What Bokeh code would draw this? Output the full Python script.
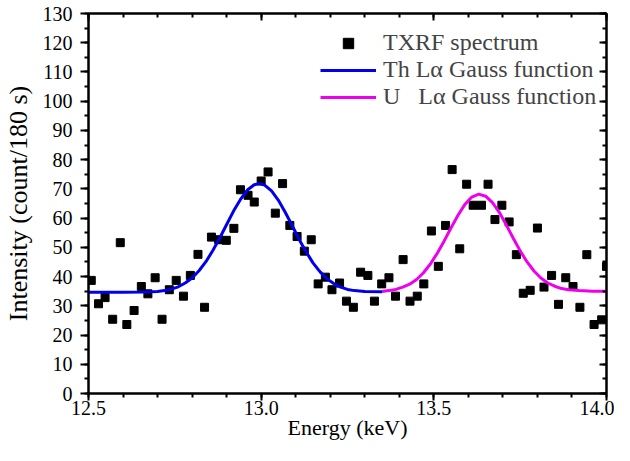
from bokeh.plotting import figure
from bokeh.models import (Range1d, LinearAxis, SingleIntervalTicker, Legend, LegendItem,
                          ColumnDataSource)
from bokeh.embed import file_html
from bokeh.resources import INLINE

# ---- data ----
energy_keV = [12.508, 12.529, 12.548, 12.570, 12.592, 12.611, 12.632, 12.653, 12.672, 12.693,
              12.713, 12.734, 12.754, 12.775, 12.795, 12.817, 12.836, 12.856, 12.877, 12.899,
              12.921, 12.940, 12.962, 12.980, 13.000, 13.020, 13.041, 13.062, 13.083, 13.104,
              13.125, 13.145, 13.165, 13.186, 13.205, 13.227, 13.247, 13.267, 13.288, 13.309,
              13.328, 13.349, 13.370, 13.389, 13.411, 13.431, 13.452, 13.471, 13.493, 13.513,
              13.534, 13.553, 13.575, 13.595, 13.614, 13.638, 13.657, 13.677, 13.697, 13.718,
              13.739, 13.759, 13.779, 13.800, 13.819, 13.841, 13.861, 13.882, 13.903, 13.923,
              13.943, 13.964, 13.986, 14.000]
intensity = [38.7, 30.7, 32.8, 25.4, 51.6, 23.6, 28.4, 36.6, 34.1, 39.6,
             25.4, 35.5, 38.7, 33.3, 40.4, 47.6, 29.5, 53.5, 52.6, 52.4,
             56.5, 69.7, 67.8, 65.5, 72.7, 75.8, 61.7, 71.8, 57.5, 53.7,
             48.7, 52.6, 37.5, 39.8, 35.5, 37.8, 31.6, 29.5, 41.5, 40.4,
             31.6, 37.5, 39.6, 33.3, 45.8, 31.6, 33.3, 37.5, 55.6, 43.5,
             57.5, 76.6, 49.5, 71.6, 64.4, 64.4, 71.6, 59.5, 64.4, 58.7,
             47.5, 34.3, 35.3, 56.6, 36.4, 40.4, 30.5, 39.6, 36.6, 29.5,
             47.5, 23.6, 25.2, 43.5]

th_energy = [12.50, 12.60, 12.66, 12.70, 12.72, 12.74, 12.76, 12.78, 12.80, 12.82,
             12.84, 12.86, 12.88, 12.90, 12.92, 12.94, 12.96, 12.98, 12.994, 13.01,
             13.03, 13.05, 13.07, 13.09, 13.11, 13.13, 13.15, 13.17, 13.19, 13.21,
             13.23, 13.25, 13.27, 13.30, 13.35]
th_fit = [34.6, 34.6, 34.7, 34.9, 35.2, 35.7, 36.5, 37.8, 39.5, 42.0,
          45.1, 48.9, 53.2, 57.8, 62.4, 66.4, 69.6, 71.4, 71.8, 71.3,
          69.3, 66.1, 61.9, 57.4, 52.7, 48.5, 44.7, 41.7, 39.3, 37.6,
          36.4, 35.6, 35.2, 34.9, 34.8]

u_energy = [13.35, 13.37, 13.39, 13.41, 13.43, 13.45, 13.47, 13.49, 13.51, 13.53,
            13.55, 13.57, 13.59, 13.61, 13.63, 13.65, 13.67, 13.69, 13.71, 13.73,
            13.75, 13.77, 13.79, 13.81, 13.83, 13.85, 13.87, 13.89, 13.92, 13.96, 14.00]
u_fit = [34.9, 35.2, 35.6, 36.4, 37.4, 39.0, 41.3, 44.3, 48.0, 52.2,
         56.7, 61.0, 64.7, 67.2, 68.2, 67.5, 65.3, 61.9, 57.6, 53.1,
         48.8, 45.0, 41.9, 39.5, 37.8, 36.7, 35.9, 35.5, 35.2, 35.0, 35.0]

x_ticks = [12.5, 13.0, 13.5, 14.0]
x_tick_labels = ["12.5", "13.0", "13.5", "14.0"]

FONT = "Liberation Serif"

p = figure(width=614, height=445, output_backend="svg", toolbar_location=None,
           x_range=Range1d(12.5, 14.0), y_range=Range1d(0, 130),
           min_border_left=88, min_border_right=8, min_border_top=13, min_border_bottom=52,
           x_axis_label="Energy (keV)", y_axis_label="Intensity (count/180 s)")
p.grid.visible = False
p.outline_line_color = "black"
p.outline_line_width = 2
p.background_fill_color = "white"
p.border_fill_color = "white"

p.xaxis.ticker = SingleIntervalTicker(interval=0.5, num_minor_ticks=5)
p.yaxis.ticker = SingleIntervalTicker(interval=10, num_minor_ticks=2)

for ax in (p.xaxis[0], p.yaxis[0]):
    ax.axis_line_width = 2
    ax.major_tick_line_width = 2
    ax.minor_tick_line_width = 2
    ax.major_tick_in = 0
    ax.minor_tick_in = 0
    ax.major_label_text_font = FONT
    ax.major_label_text_font_size = "20px"
    ax.major_label_text_color = "black"
    ax.axis_label_text_font = FONT
    ax.axis_label_text_font_style = "normal"
    ax.axis_label_text_color = "black"

p.xaxis.major_tick_out = 7
p.xaxis.minor_tick_out = 4
p.xaxis.major_label_standoff = 0
p.xaxis.major_label_text_line_height = 0.9
p.xaxis.axis_label_text_font_size = "22px"
p.xaxis.axis_label_text_line_height = 0.9
p.xaxis.axis_label_standoff = -3
p.xaxis.major_label_overrides = dict(zip(x_ticks, x_tick_labels))

p.yaxis.major_tick_out = 8
p.yaxis.minor_tick_out = 4
p.yaxis.major_label_standoff = 8
p.yaxis.axis_label_text_font_size = "26px"
p.yaxis.axis_label_standoff = 7

top = LinearAxis(ticker=SingleIntervalTicker(interval=0.5, num_minor_ticks=5))
right = LinearAxis(ticker=SingleIntervalTicker(interval=10, num_minor_ticks=2))
for ax in (top, right):
    ax.axis_line_width = 2
    ax.major_tick_line_width = 2
    ax.minor_tick_line_width = 2
    ax.major_tick_out = 0
    ax.minor_tick_out = 0
    ax.major_tick_in = 7
    ax.minor_tick_in = 4
    ax.major_label_text_font_size = "0px"
    ax.major_label_standoff = 0
    ax.major_label_text_alpha = 0
p.add_layout(top, "above")
p.add_layout(right, "right")

src = ColumnDataSource(dict(x=energy_keV, y=intensity))
r_pts = p.scatter("x", "y", source=src, marker="square", size=8, color="black")
r_th = p.line(th_energy, th_fit, line_color="#0000ee", line_width=3)
r_u = p.line(u_energy, u_fit, line_color="#ee00ee", line_width=3)

legend = Legend(items=[LegendItem(label="TXRF spectrum", renderers=[r_pts]),
                       LegendItem(label="Th L\u03b1 Gauss function", renderers=[r_th]),
                       LegendItem(label="U   L\u03b1 Gauss function", renderers=[r_u])],
                location=(232, 283), padding=0, margin=0, spacing=0,
                glyph_width=56, glyph_height=26, label_height=26, label_standoff=7,
                label_text_font=FONT, label_text_font_size="24px",
                border_line_color=None, background_fill_alpha=0)
p.add_layout(legend, "center")

open("out.html", "w").write(file_html(p, INLINE))
